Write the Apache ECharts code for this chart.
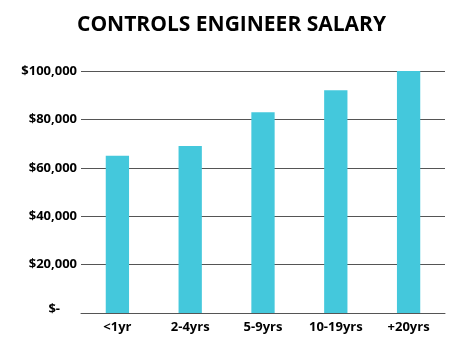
<!DOCTYPE html>
<html>
<head>
<meta charset="utf-8">
<script src="https://cdn.jsdelivr.net/npm/echarts@6/dist/echarts.min.js"></script>
<style>
html,body{margin:0;padding:0;background:#fff;}
#chart{width:474px;height:355px;}
</style>
</head>
<body>
<div id="chart"></div>
<script>
const titleText = 'CONTROLS ENGINEER SALARY';
const categories = ['<1yr', '2-4yrs', '5-9yrs', '10-19yrs', '+20yrs'];
const salaries = [65000, 69000, 83000, 92000, 100000];
const yTicks = [0, 20000, 40000, 60000, 80000, 100000];

const chart = echarts.init(document.getElementById('chart'));
const font = '"Open Sans", "Noto Sans", sans-serif';
chart.setOption({
  animation: false,
  title: {
    text: titleText,
    left: 72,
    top: 10,
    textStyle: {fontFamily: font, fontWeight: 'bold', fontSize: 21, color: '#000'}
  },
  grid: {left: 81, right: 29, top: 71, bottom: 42, containLabel: false},
  xAxis: {
    type: 'category',
    data: categories,
    axisLine: {show: true, lineStyle: {color: '#555', width: 1}},
    axisTick: {show: false},
    axisLabel: {fontFamily: font, fontWeight: 'bold', fontSize: 13, color: '#000', margin: 8}
  },
  yAxis: {
    type: 'value',
    min: yTicks[0],
    max: yTicks[yTicks.length - 1],
    interval: yTicks[1] - yTicks[0],
    axisLine: {show: false},
    axisTick: {show: false},
    splitLine: {lineStyle: {color: '#555', width: 1}},
    axisLabel: {
      fontFamily: font, fontWeight: 'bold', fontSize: 13, color: '#000', margin: 4,
      formatter: function (v) {
        if (v === 0) return '{z|$-}';
        return '$' + v.toLocaleString('en-US');
      },
      rich: {
        z: {fontFamily: font, fontWeight: 'bold', fontSize: 13, color: '#000', padding: [0, 17, 8, 0]}
      }
    }
  },
  series: [{
    type: 'bar',
    data: salaries,
    barWidth: '32%',
    itemStyle: {color: '#44C8DC'}
  }]
});
</script>
</body>
</html>
